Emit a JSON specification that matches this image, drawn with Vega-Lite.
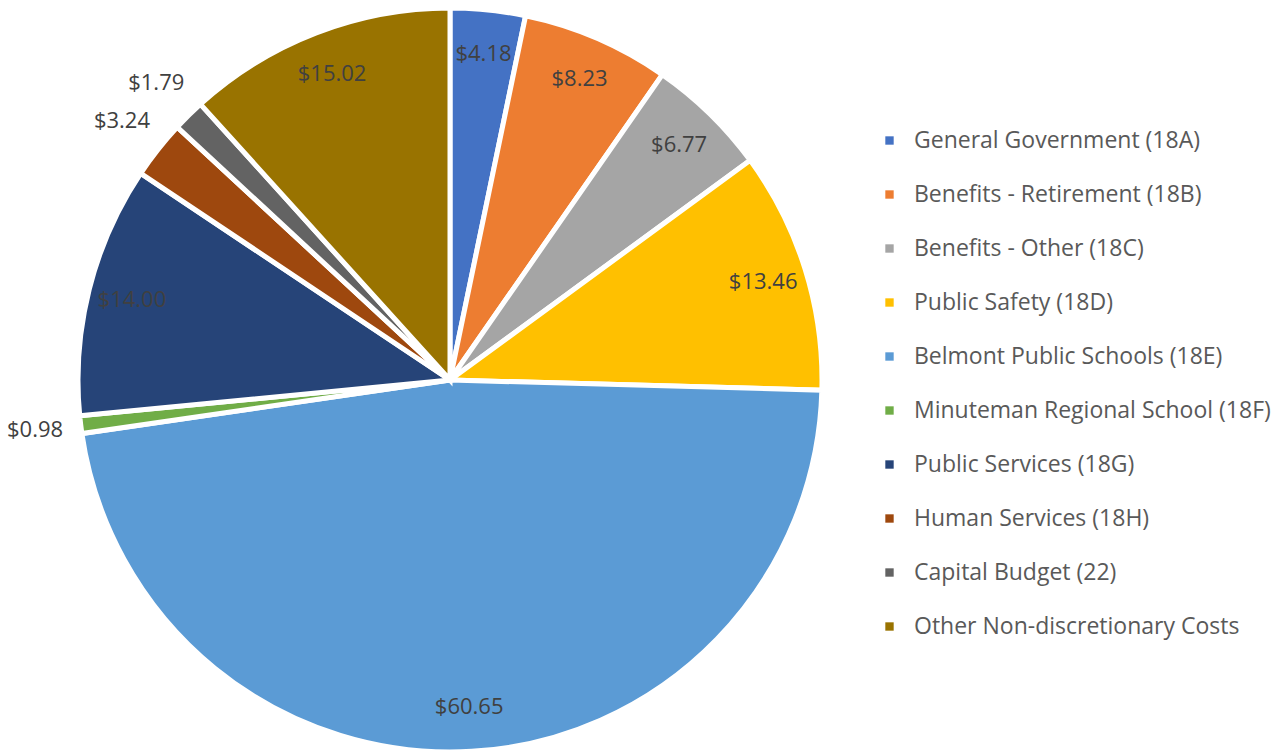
{
  "$schema": "https://vega.github.io/schema/vega-lite/v6.json",
  "width": 900,
  "height": 754,
  "padding": {"left": 0, "top": 3, "right": 378, "bottom": 0},
  "autosize": {"type": "none"},
  "background": "white",
  "config": {"view": {"stroke": null}, "font": "Open Sans"},
  "data": {
    "values": [
      {"i": 1, "category": "General Government (18A)", "value": 4.18},
      {"i": 2, "category": "Benefits - Retirement (18B)", "value": 8.23},
      {"i": 3, "category": "Benefits - Other (18C)", "value": 6.77},
      {"i": 4, "category": "Public Safety (18D)", "value": 13.46},
      {"i": 5, "category": "Belmont Public Schools (18E)", "value": 60.65},
      {"i": 6, "category": "Minuteman Regional School (18F)", "value": 0.98},
      {"i": 7, "category": "Public Services (18G)", "value": 14.00},
      {"i": 8, "category": "Human Services (18H)", "value": 3.24},
      {"i": 9, "category": "Capital Budget (22)", "value": 1.79},
      {"i": 10, "category": "Other Non-discretionary Costs", "value": 15.02}
    ]
  },
  "encoding": {
    "theta": {"field": "value", "type": "quantitative", "stack": true},
    "order": {"field": "i", "type": "quantitative"},
    "color": {
      "field": "category",
      "type": "nominal",
      "sort": null,
      "scale": {
        "domain": ["General Government (18A)", "Benefits - Retirement (18B)", "Benefits - Other (18C)", "Public Safety (18D)", "Belmont Public Schools (18E)", "Minuteman Regional School (18F)", "Public Services (18G)", "Human Services (18H)", "Capital Budget (22)", "Other Non-discretionary Costs"],
        "range": ["#4472C4", "#ED7D31", "#A5A5A5", "#FFC000", "#5B9BD5", "#70AD47", "#264478", "#9E480E", "#636363", "#997300"]
      },
      "legend": {
        "title": null,
        "orient": "none",
        "legendX": 878,
        "legendY": 126,
        "symbolType": "square",
        "symbolSize": 70,
        "symbolStrokeWidth": 0,
        "labelFontSize": 23,
        "labelColor": "#595959",
        "labelFont": "Open Sans",
        "labelLimit": 400,
        "labelOffset": 13,
        "rowPadding": 30
      }
    }
  },
  "layer": [
    {
      "mark": {"type": "arc", "outerRadius": 372, "stroke": "white", "strokeWidth": 5}
    },
    {
      "mark": {"type": "text", "radius": 328, "fontSize": 22, "font": "Open Sans"},
      "encoding": {
        "text": {"condition": {"test": "datum.value < 3.5", "value": ""}, "field": "value", "type": "quantitative", "format": "$.2f"},
        "color": {"value": "#404040"}
      }
    },
    {
      "mark": {"type": "text", "radius": 418, "fontSize": 22, "font": "Open Sans"},
      "encoding": {
        "text": {"condition": {"test": "datum.value >= 3.5", "value": ""}, "field": "value", "type": "quantitative", "format": "$.2f"},
        "color": {"value": "#404040"}
      }
    }
  ]
}
